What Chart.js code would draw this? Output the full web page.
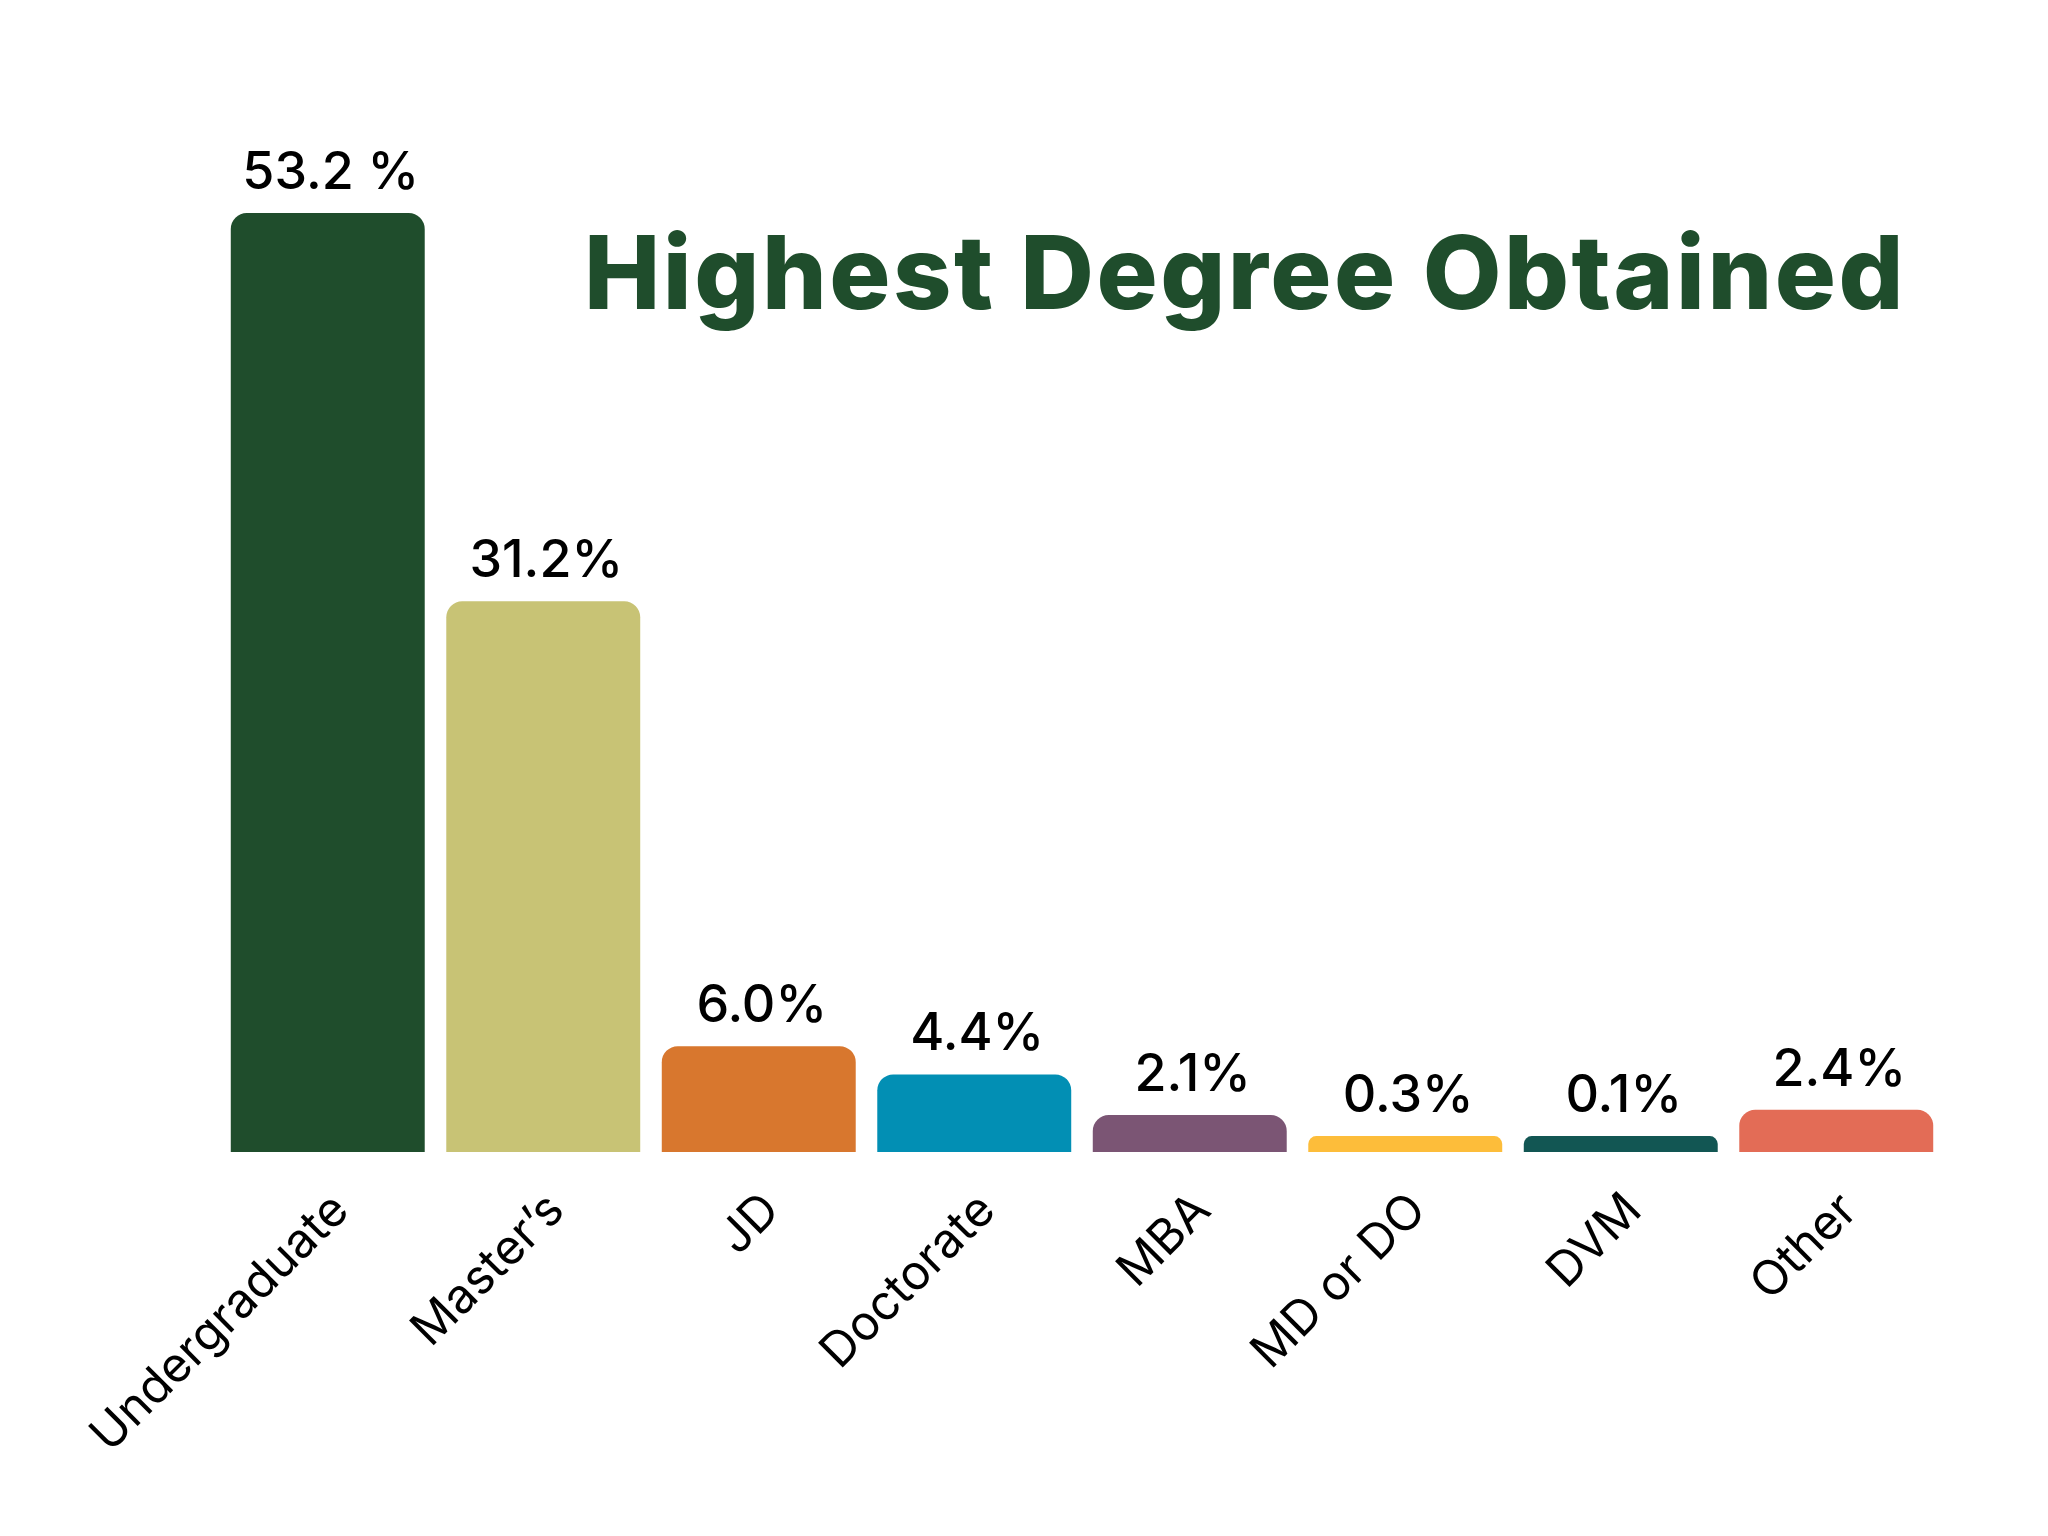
<!DOCTYPE html>
<html lang="en">
  <head>
    <meta charset="UTF-8" />
    <title>Highest Degree Obtained</title>
    <script src="https://cdn.jsdelivr.net/npm/chart.js"></script>
    <style>
      html, body { margin: 0; padding: 0; background: #ffffff; }
      #graficoGrau { display: block; }
    </style>
  </head>
  <body>
    <canvas id="graficoGrau" width="2048" height="1536"></canvas>
  </body>
</html>

<script>
  // dados
  const categories = ["Undergraduate", "Master\u2019s", "JD", "Doctorate", "MBA", "MD or DO", "DVM", "Other"];
  const shares = [53.2, 31.2, 6.0, 4.4, 2.1, 0.3, 0.1, 2.4];
  const valueLabels = ["53.2 %", "31.2%", "6.0%", "4.4%", "2.1%", "0.3%", "0.1%", "2.4%"];
  const barColors = ["#1f4d2c", "#c8c375", "#d8772e", "#028fb4", "#7b5574", "#fdbd3a", "#125653", "#e36c56"];

  const titleText = "Highest Degree Obtained";
  const fontFamily = "Inter, 'Open Sans', sans-serif";

  // rótulos de valor em cima das barras
  const valueLabelPlugin = {
    id: "valueLabels",
    afterDatasetsDraw(chart) {
      const ctx = chart.ctx;
      const meta = chart.getDatasetMeta(0);
      ctx.save();
      ctx.fillStyle = "#000000";
      ctx.font = "500 52px " + fontFamily;
      ctx.textAlign = "center";
      ctx.textBaseline = "alphabetic";
      meta.data.forEach((bar, index) => {
        ctx.fillText(valueLabels[index], bar.x + 3, bar.y - 24);
      });
      ctx.restore();
    },
  };

  // título grande à direita
  const titlePlugin = {
    id: "bigTitle",
    afterDraw(chart) {
      const ctx = chart.ctx;
      ctx.save();
      ctx.fillStyle = "#1f4d2c";
      ctx.font = "800 102px " + fontFamily;
      ctx.letterSpacing = "2.5px";
      ctx.textAlign = "right";
      ctx.textBaseline = "alphabetic";
      ctx.fillText(titleText, 1906, 309);
      ctx.restore();
    },
  };

  const config = {
    type: "bar",
    data: {
      labels: categories,
      datasets: [
        {
          label: "Highest degree",
          data: shares,
          backgroundColor: barColors,
          borderRadius: { topLeft: 16, topRight: 16 },
          borderSkipped: "bottom",
          minBarLength: 16,
          barPercentage: 0.9,
          categoryPercentage: 1.0,
        },
      ],
    },
    options: {
      responsive: false,
      animation: false,
      devicePixelRatio: 1,
      layout: {
        padding: { top: 93, left: 220, right: 104, bottom: 50 },
      },
      scales: {
        x: {
          grid: { display: false },
          border: { display: false },
          ticks: {
            color: "#000000",
            font: { family: fontFamily, size: 48 },
            minRotation: 45,
            maxRotation: 45,
            padding: 22,
            labelOffset: 13,
          },
        },
        y: {
          display: false,
          min: 0,
          max: 60,
        },
      },
      plugins: {
        legend: { display: false },
        tooltip: { enabled: false },
      },
    },
    plugins: [valueLabelPlugin, titlePlugin],
  };

  const graficoGrau = new Chart(document.getElementById("graficoGrau"), config);
</script>
